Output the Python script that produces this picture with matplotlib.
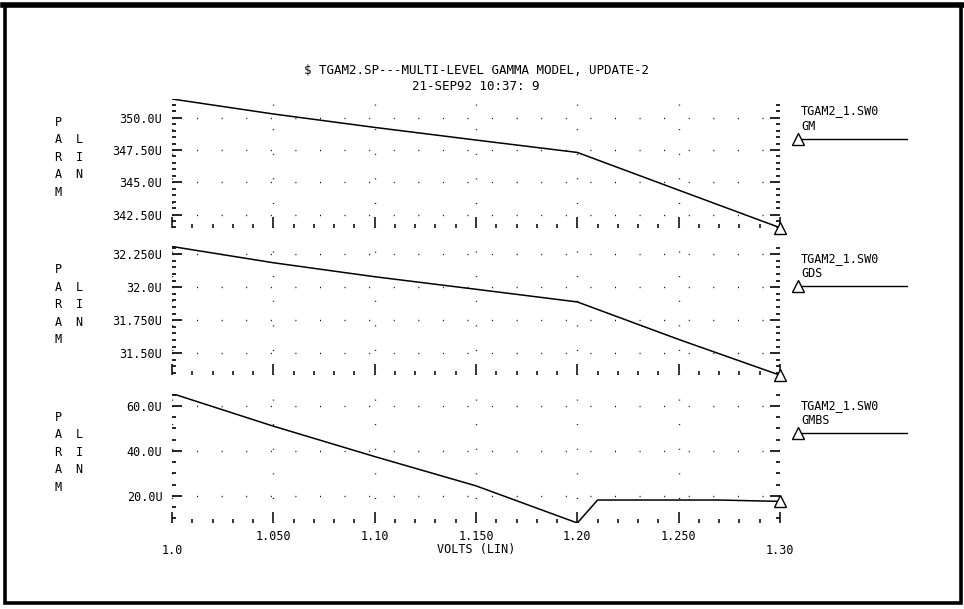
import matplotlib
matplotlib.use('Agg')
import matplotlib.pyplot as plt
from matplotlib.patches import Rectangle
from matplotlib.lines import Line2D
from matplotlib.ticker import MultipleLocator, FixedLocator

# sweep values (volts) and the three parameter traces
volts = [1.00, 1.05, 1.10, 1.15, 1.20, 1.25, 1.30]
gm = [351.45, 350.29, 349.25, 348.27, 347.31, 344.39, 341.48]
gds = [32.309, 32.186, 32.080, 31.985, 31.889, 31.605, 31.334]
volts_gmbs = [1.00, 1.05, 1.10, 1.15, 1.20, 1.21, 1.27, 1.30]
gmbs = [65.5, 51.0, 37.5, 24.5, 8.0, 18.2, 18.2, 17.6]

gm_ticks = [342.5, 345.0, 347.5, 350.0]
gm_labels = ['342.50U', '345.0U', '347.50U', '350.0U']
gds_ticks = [31.5, 31.75, 32.0, 32.25]
gds_labels = ['31.50U', '31.750U', '32.0U', '32.250U']
gmbs_ticks = [20.0, 40.0, 60.0]
gmbs_labels = ['20.0U', '40.0U', '60.0U']

x_ticks = [1.00, 1.05, 1.10, 1.15, 1.20, 1.25, 1.30]
x_labels = ['1.0', '1.050', '1.10', '1.150', '1.20', '1.250', '1.30']

title1 = '$ TGAM2.SP---MULTI-LEVEL GAMMA MODEL, UPDATE-2'
title2 = '21-SEP92 10:37: 9'
sweep_name = 'TGAM2_1.SW0'
names = ['GM', 'GDS', 'GMBS']

W, H = 964, 609
FONT = 'DejaVu Sans Mono'
plt.rcParams['font.family'] = FONT

fig = plt.figure(figsize=(W / 100, H / 100), dpi=100)

def fx(px):
    return px / W

def fy(py):
    return 1 - py / H

# panel boxes in pixels: (top, bottom)
left, right = 172, 780
panels = [(99, 227.7), (246.5, 375.2), (393.5, 523)]
series = [(volts, gm, gm_ticks, gm_labels, 0.5),
          (volts, gds, gds_ticks, gds_labels, 0.05),
          (volts_gmbs, gmbs, gmbs_ticks, gmbs_labels, 5.0)]
legend_y = [138.7, 286.2, 433.3]

axes = []
for i, ((top, bot), (xs, ys, yt, yl, ymin)) in enumerate(zip(panels, series)):
    ax = fig.add_axes([fx(left), fy(bot), (right - left) / W, (bot - top) / H])
    axes.append(ax)
    ax.plot(xs, ys, color='black', lw=1.1)
    ax.plot([xs[-1]], [ys[-1]], marker='^', ms=8, mfc='white', mec='black',
            mew=1.0, clip_on=False)
    ax.set_xlim(1.0, 1.30)
    ax.set_ylim(min(ys), max(ys))
    for s in ax.spines.values():
        s.set_visible(False)

    ax.yaxis.set_major_locator(FixedLocator(yt))
    ax.set_yticklabels(yl)
    ax.yaxis.set_minor_locator(MultipleLocator(ymin))
    ax.xaxis.set_major_locator(FixedLocator(x_ticks))
    ax.xaxis.set_minor_locator(MultipleLocator(0.01))

    ax.tick_params(axis='y', which='both', direction='in', left=True, right=True,
                   width=1.2, labelsize=8.5, pad=7)
    ax.tick_params(axis='y', which='major', length=7.5)
    ax.tick_params(axis='y', which='minor', length=3)
    ax.tick_params(axis='x', which='both', direction='in', bottom=True, top=False,
                   width=1.1)
    ax.tick_params(axis='x', which='major', length=8)
    ax.tick_params(axis='x', which='minor', length=3)

    ax.grid(True, which='major', color='black', lw=1.0, linestyle=(0, (0.7, 17)))

    # stacked axis caption
    cy = (top + bot) / 2 - 6
    fig.text(fx(58), fy(cy), 'P\nA\nR\nA\nM', ha='center', va='center',
             fontsize=8.5, linespacing=1.45)
    fig.text(fx(79), fy(cy), 'L\nI\nN', ha='center', va='center',
             fontsize=8.5, linespacing=1.45)

    # legend block on the right
    ly = legend_y[i]
    fig.text(fx(801), fy(ly - 28), sweep_name, ha='left', va='center', fontsize=8.5)
    fig.text(fx(801), fy(ly - 12.5), names[i], ha='left', va='center', fontsize=8.5)
    fig.add_artist(Line2D([fx(801), fx(907)], [fy(ly), fy(ly)], color='black', lw=1.0))
    fig.add_artist(Line2D([fx(797.5)], [fy(ly)], marker='^', ms=8, mfc='white',
                          mec='black', mew=1.0))

    if i < 2:
        ax.tick_params(axis='x', labelbottom=False)
    else:
        ax.set_xticklabels(x_labels, fontsize=8.5)
        for k, t in enumerate(ax.xaxis.get_major_ticks()):
            t.set_pad(15 if k in (0, len(x_ticks) - 1) else 5)

fig.text(fx(476), fy(549), 'VOLTS (LIN)', ha='center', va='center', fontsize=8.5)
fig.text(fx(476), fy(71), title1, ha='center', va='center', fontsize=9,
         parse_math=False)
fig.text(fx(476), fy(86), title2, ha='center', va='center', fontsize=9)

# heavy page frame, thicker along the top edge
fig.add_artist(Rectangle((fx(4.5), fy(603)), (960.5 - 4.5) / W, (603 - 5) / H,
                         transform=fig.transFigure, fill=False, edgecolor='black',
                         lw=2.6))
fig.add_artist(Line2D([fx(3), fx(962)], [fy(4.5), fy(4.5)], color='black', lw=4))

fig.savefig('out.png', dpi=100)
